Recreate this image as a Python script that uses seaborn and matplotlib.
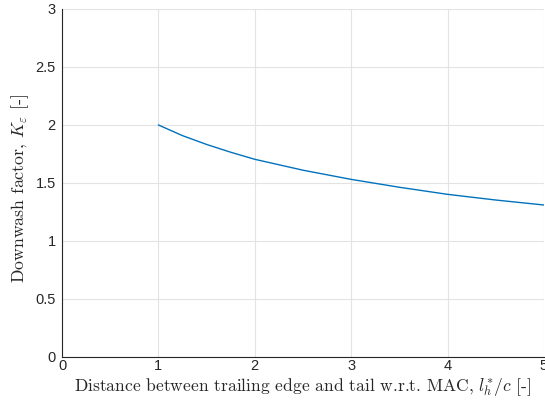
import matplotlib
matplotlib.use('Agg')
import matplotlib.pyplot as plt
import seaborn as sns
import pandas as pd

# values
lh_c = [1.0, 1.25, 1.5, 1.75, 2.0, 2.5, 3.0, 3.5, 4.0, 4.5, 5.0]
k_eps = [2.000, 1.908, 1.832, 1.765, 1.704, 1.610, 1.531, 1.463, 1.402, 1.353, 1.310]

x_ticks = [0, 1, 2, 3, 4, 5]
y_ticks = [0, 0.5, 1, 1.5, 2, 2.5, 3]
y_tick_labels = ['0', '0.5', '1', '1.5', '2', '2.5', '3']

sns.set_style('white')
plt.rcParams['font.family'] = ['Liberation Sans', 'DejaVu Sans']
plt.rcParams['mathtext.fontset'] = 'cm'

df = pd.DataFrame({'x': lh_c, 'k': k_eps})

fig = plt.figure(figsize=(5.45, 4.07), dpi=100)
ax = fig.add_axes([0.1138, 0.1229, 0.8842, 0.8551])
sns.lineplot(data=df, x='x', y='k', color='#0072BD', linewidth=1.0, ax=ax)

ax.set_xlim(0, 5)
ax.set_ylim(0, 3)
ax.set_xticks(x_ticks)
ax.set_yticks(y_ticks)
ax.set_yticklabels(y_tick_labels)
ax.grid(True, color='#e3e3e3', linewidth=0.8)
ax.set_axisbelow(True)
for s in ['top', 'right']:
    ax.spines[s].set_visible(False)
for s in ['left', 'bottom']:
    ax.spines[s].set_color('#262626')
    ax.spines[s].set_linewidth(0.8)
ax.tick_params(direction='in', length=3, width=0.6, colors='#262626', labelsize=10.5)
ax.tick_params(axis='x', pad=1.5)
ax.tick_params(axis='y', pad=4.5)

ax.set_xlabel(r'Distance between trailing edge and tail w.r.t. MAC, $l_h^{*}/c$ [-]',
              fontfamily='cmr10', fontsize=12.6, color='#262626', labelpad=2)
ax.set_ylabel(r'Downwash factor, $K_\varepsilon$ [-]',
              fontfamily='cmr10', fontsize=12.8, color='#262626', labelpad=3)
ax.yaxis.label.set_y(0.483)

plt.savefig('out.png', dpi=100)
